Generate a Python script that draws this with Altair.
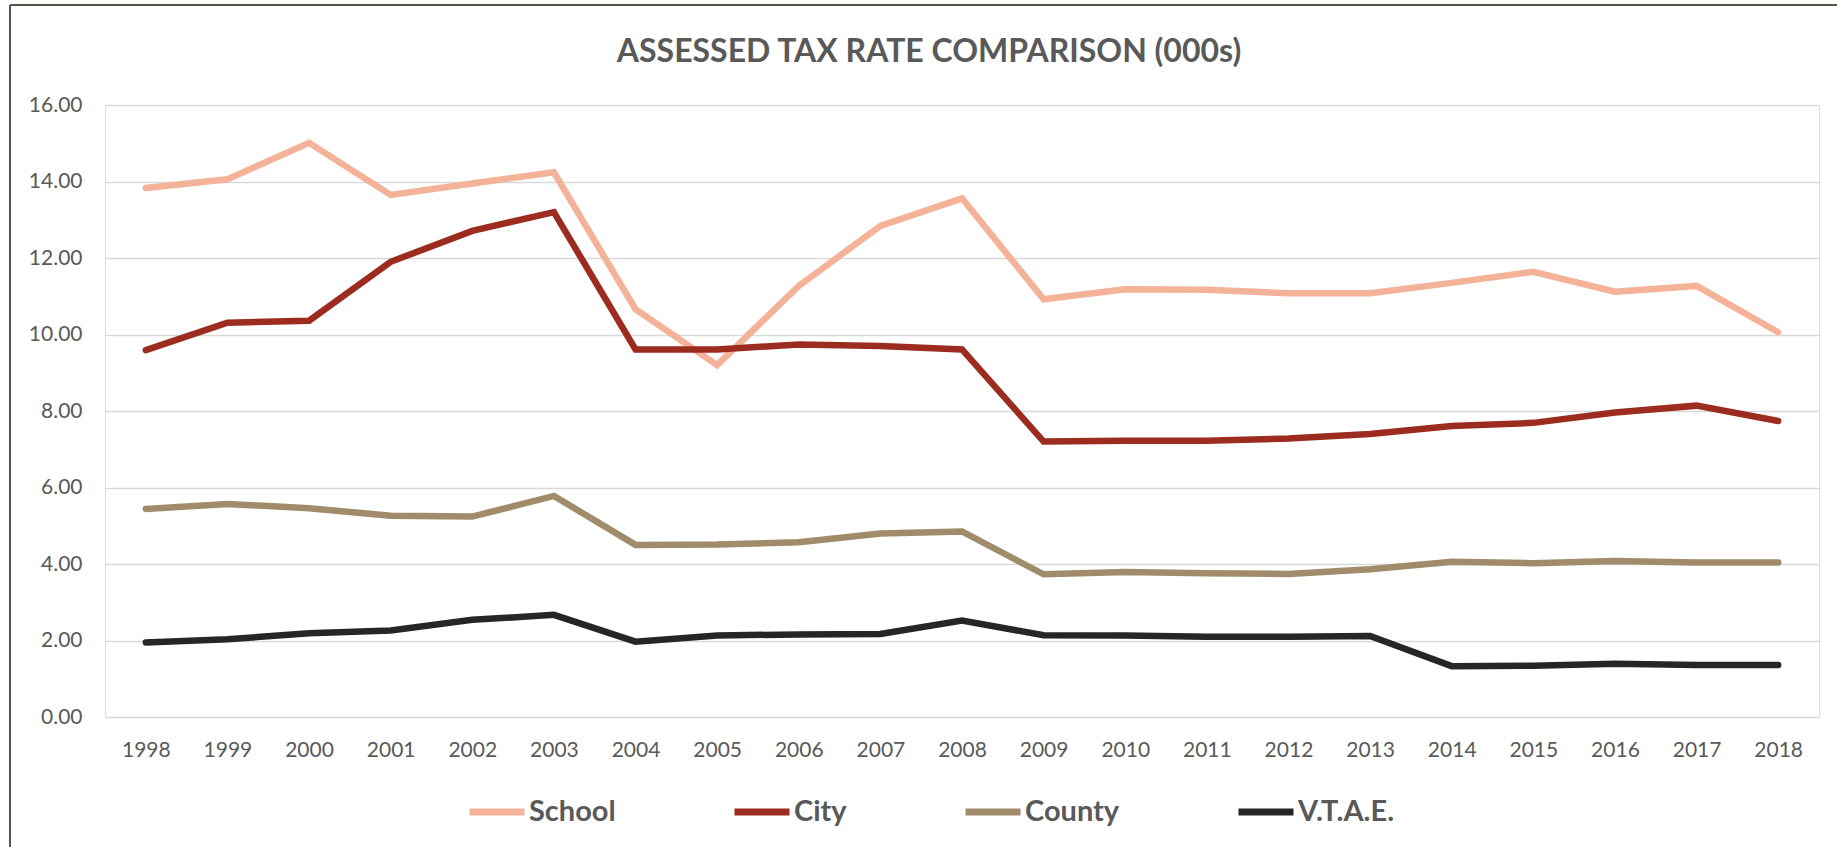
import altair as alt
import pandas as pd

years = [str(y) for y in range(1998, 2019)]
school = [13.83, 14.06, 15.01, 13.65, 13.95, 14.24, 10.66, 9.20, 11.27, 12.84, 13.56,
          10.92, 11.18, 11.17, 11.08, 11.08, 11.35, 11.64, 11.12, 11.27, 10.06]
city = [9.59, 10.31, 10.36, 11.90, 12.71, 13.20, 9.61, 9.61, 9.74, 9.70, 9.61,
        7.20, 7.22, 7.22, 7.28, 7.40, 7.61, 7.69, 7.96, 8.14, 7.74]
county = [5.44, 5.57, 5.46, 5.26, 5.24, 5.78, 4.50, 4.51, 4.57, 4.80, 4.85,
          3.73, 3.79, 3.76, 3.74, 3.86, 4.06, 4.02, 4.08, 4.04, 4.04]
vtae = [1.95, 2.03, 2.19, 2.26, 2.54, 2.67, 1.97, 2.13, 2.16, 2.17, 2.52,
        2.14, 2.13, 2.10, 2.10, 2.12, 1.33, 1.34, 1.39, 1.36, 1.36]

series_names = ["School", "City", "County", "V.T.A.E."]
series_colors = ["#F4B299", "#9B2C1F", "#A08C6A", "#262626"]
series_values = [school, city, county, vtae]
title_text = "ASSESSED TAX RATE COMPARISON (000s)"

rows = []
for name, vals in zip(series_names, series_values):
    for y, v in zip(years, vals):
        rows.append({"Year": y, "Rate": v, "Series": name})
df = pd.DataFrame(rows)

FONT = "Lato"
GREY = "#595959"
BORDER = "#5A5448"

lines = alt.Chart(df).mark_line(strokeWidth=6.5, strokeCap="round").encode(
    x=alt.X("Year:O", sort=years,
            scale=alt.Scale(type="point", padding=0.5),
            axis=alt.Axis(title=None, labelAngle=0, domain=False, ticks=False,
                          labelPadding=22, labelFontSize=21, labelFont=FONT,
                          labelColor=GREY, grid=False)),
    y=alt.Y("Rate:Q", scale=alt.Scale(domain=[0, 16], nice=False),
            axis=alt.Axis(title=None, values=[0, 2, 4, 6, 8, 10, 12, 14, 16],
                          format=".2f", domain=False, ticks=False,
                          labelPadding=23, labelFontSize=21, labelFont=FONT,
                          labelColor=GREY, gridColor="#D9D9D9", gridWidth=1.5)),
    color=alt.Color("Series:N",
                    scale=alt.Scale(domain=series_names, range=series_colors),
                    sort=series_names,
                    legend=alt.Legend(title=None, orient="none", direction="horizontal",
                                      legendX=361, legendY=676,
                                      symbolType="stroke", symbolSize=3025,
                                      symbolStrokeWidth=7, labelOffset=1,
                                      columnPadding=104, labelFont=FONT,
                                      labelFontSize=29, labelFontWeight="bold",
                                      labelColor=GREY)),
    order=alt.Order("Year:O"),
)

one = alt.Data(values=[{"k": 1}])
top_border = alt.Chart(one).mark_rule(stroke=BORDER, strokeWidth=2).encode(
    x=alt.value(-95), x2=alt.value(1732), y=alt.value(-100)
)
left_border = alt.Chart(one).mark_rule(stroke=BORDER, strokeWidth=2).encode(
    x=alt.value(-95), y=alt.value(-100), y2=alt.value(742)
)

title = alt.Chart(one).mark_text(
    font=FONT, fontSize=32, fontWeight="bold", color=GREY,
    align="center", baseline="alphabetic"
).encode(
    x=alt.value(824), y=alt.value(-43), text=alt.value(title_text)
)

chart = alt.layer(top_border, left_border, lines, title).properties(
    width=1714, height=612,
    autosize=alt.AutoSizeParams(type="none"),
    padding={"left": 105, "top": 105, "right": 18, "bottom": 130},
).configure_view(stroke=None).configure(background="white")

chart.save("out.html", embed_options={"renderer": "svg", "actions": False})
